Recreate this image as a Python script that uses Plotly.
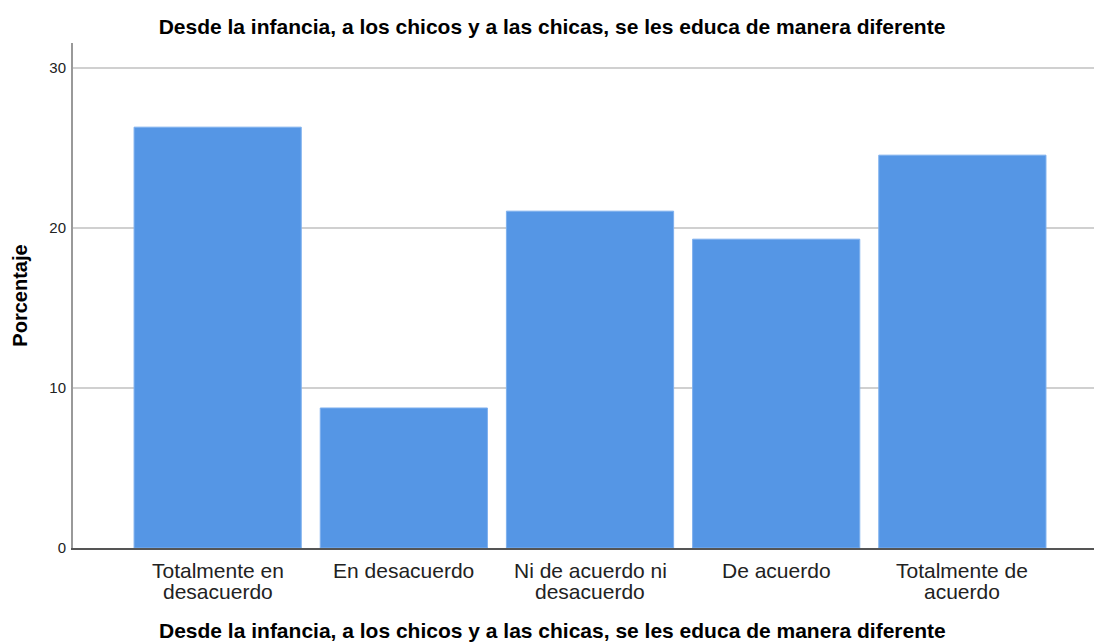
import plotly.graph_objects as go

categories = ["Totalmente en desacuerdo", "En desacuerdo", "Ni de acuerdo ni desacuerdo",
              "De acuerdo", "Totalmente de acuerdo"]
category_lines = [["Totalmente en", "desacuerdo"], ["En desacuerdo"], ["Ni de acuerdo ni", "desacuerdo"],
                  ["De acuerdo"], ["Totalmente de", "acuerdo"]]
percentages = [26.3, 8.75, 21.05, 19.3, 24.55]
y_ticks = [0, 10, 20, 30]
title_text = "Desde la infancia, a los chicos y a las chicas, se les educa de manera diferente"

fig = go.Figure(go.Bar(
    x=categories, y=percentages,
    marker=dict(color="#5596e5", line=dict(color="#7eb0ee", width=1)),
    hoverinfo="x+y",
))

FONT = "Liberation Sans, Arial, sans-serif"

fig.update_layout(
    width=1094, height=644,
    margin=dict(l=73, r=0, t=43, b=96, pad=0),
    paper_bgcolor="white", plot_bgcolor="white",
    bargap=0.102,
    font=dict(family=FONT, color="#222"),
    title=dict(text=title_text, x=552 / 1094, xref="container", xanchor="center",
               y=1 - 27 / 644, yanchor="middle", yref="container",
               font=dict(size=21, color="black", family=FONT, weight="bold")),
    showlegend=False,
)

# category labels (two tight lines, like the reference)
for cat, lines in zip(categories, category_lines):
    for i, line in enumerate(lines):
        fig.add_annotation(x=cat, y=0, xref="x", yref="y", text=line, showarrow=False,
                           xanchor="center", yanchor="top", yshift=-9 - 21 * i,
                           font=dict(size=21, color="#222", family=FONT))

fig.add_annotation(text="<b>" + title_text + "</b>", xref="paper", yref="paper",
                   x=(552 - 73) / 1021, y=0, yshift=-95, xanchor="center", yanchor="bottom",
                   showarrow=False, borderpad=0, font=dict(size=21, color="black", family=FONT))

fig.update_xaxes(
    range=[-0.777, 4.707],
    showline=True, linecolor="#555", linewidth=1.5,
    ticks="", showgrid=False, showticklabels=False,
)
fig.update_yaxes(
    range=[0, 31.56],
    tickvals=y_ticks,
    showline=True, linecolor="#999", linewidth=2,
    showgrid=True, gridcolor="#d0d0d0", gridwidth=1.5,
    zeroline=False,
    ticks="", ticklabelstandoff=2,
    tickfont=dict(size=15, color="#222"),
    title=dict(text="<b>Porcentaje</b>", font=dict(size=20, color="black"), standoff=16),
)

fig.write_html("out.html", config={"displayModeBar": False},
               post_script="document.body.style.margin='0';document.body.style.overflow='hidden';")
